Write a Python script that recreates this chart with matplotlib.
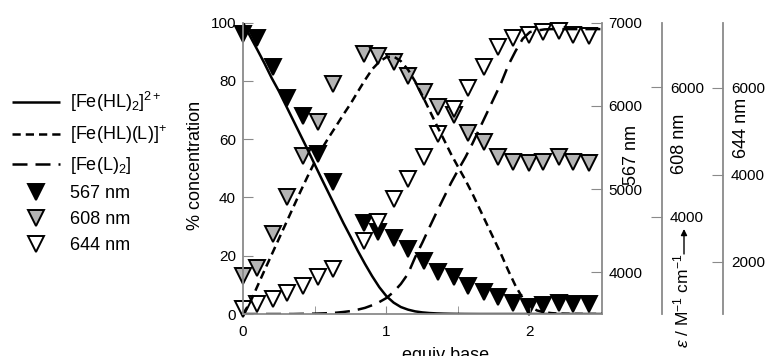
import matplotlib.pyplot as plt

plt.rcParams['font.family'] = ['Liberation Sans', 'DejaVu Sans']
plt.rcParams['mathtext.fontset'] = 'custom'
plt.rcParams['mathtext.rm'] = 'Liberation Sans'
plt.rcParams['mathtext.it'] = 'Liberation Sans:italic'
plt.rcParams['mathtext.bf'] = 'Liberation Sans:bold'

# calculated speciation (% of total Fe) vs equivalents of base
equiv_calc = [0.00, 0.05, 0.10, 0.15, 0.20, 0.25, 0.30, 0.35, 0.40, 0.45,
              0.50, 0.55, 0.60, 0.65, 0.70, 0.75, 0.80, 0.85, 0.90, 0.95,
              1.00, 1.05, 1.10, 1.15, 1.20, 1.25, 1.30, 1.35, 1.40, 1.45,
              1.50, 1.55, 1.60, 1.65, 1.70, 1.75, 1.80, 1.85, 1.90, 1.95,
              2.00, 2.05, 2.10, 2.15, 2.20, 2.25, 2.30, 2.35, 2.40, 2.45, 2.50]
fe_hl2 = [100.0, 95.3, 90.7, 86.0, 81.0, 76.5, 71.5, 66.5, 61.5, 56.5,
          51.3, 46.2, 41.2, 36.2, 31.2, 26.5, 21.7, 17.2, 13.0, 9.2,
          6.1, 3.9, 2.4, 1.5, 0.9, 0.55, 0.33, 0.2, 0.12, 0.07,
          0.04, 0.02, 0.01, 0, 0, 0, 0, 0, 0, 0,
          0, 0, 0, 0, 0, 0, 0, 0, 0, 0, 0]
fe_hl_l = [0.0, 4.0, 9.5, 15.0, 20.4, 25.8, 31.2, 36.6, 42.0, 47.2,
           52.2, 56.8, 60.8, 64.6, 68.5, 72.2, 76.3, 80.3, 84.0, 86.6,
           88.2, 88.4, 86.8, 83.9, 79.8, 75.0, 69.9, 64.8, 59.9, 54.9,
           50.4, 46.0, 41.2, 36.0, 30.8, 25.6, 20.4, 14.8, 9.6, 5.4,
           2.6, 1.2, 0.6, 0.3, 0.15, 0.08, 0.04, 0.02, 0.01, 0, 0]
fe_l2 = [0, 0, 0, 0, 0, 0, 0, 0, 0.05, 0.08,
         0.12, 0.2, 0.3, 0.45, 0.7, 1.0, 1.5, 2.1, 3.0, 4.1,
         5.5, 7.6, 10.3, 13.8, 19.5, 24.5, 29.8, 35.0, 40.0, 45.0,
         49.5, 53.8, 58.6, 63.8, 69.0, 74.2, 79.4, 85.5, 90.3, 94.5,
         96.8, 97.3, 97.7, 97.8, 97.8, 97.8, 97.8, 97.8, 97.8, 97.8, 97.8]

# measured molar absorptivities (M^-1 cm^-1)
equiv_exp = [0.00, 0.10, 0.21, 0.31, 0.42, 0.52, 0.63, 0.84, 0.94, 1.05, 1.15, 1.26,
             1.36, 1.47, 1.57, 1.68, 1.78, 1.88, 1.99, 2.09, 2.20, 2.30, 2.41]
eps_567 = [6860, 6820, 6470, 6100, 5880, 5420, 5090, 4590, 4490, 4410, 4280, 4140,
           4005, 3950, 3840, 3770, 3710, 3630, 3590, 3610, 3630, 3620, 3620]
eps_608 = [3080, 3210, 3740, 4300, 4940, 5470, 6050, 6520, 6490, 6390, 6170, 5930,
           5700, 5580, 5300, 5150, 4920, 4850, 4830, 4850, 4920, 4850, 4830]
eps_644 = [915, 1030, 1140, 1280, 1440, 1640, 1840, 2480, 2910, 3450, 3900, 4410,
           4940, 5520, 5990, 6490, 6950, 7140, 7220, 7280, 7310, 7220, 7190]

W, H = 768, 356
spine_c = '#8a8a8a'

fig = plt.figure(figsize=(W / 100, H / 100), dpi=100)
ax = fig.add_axes([243 / W, 1 - 314 / H, 358.7 / W, 291.3 / H])
ax567 = ax.twinx()
ax608 = ax.twinx()
ax644 = ax.twinx()

# lines on top of the markers
ax.set_zorder(ax644.get_zorder() + 1)
ax.patch.set_visible(False)

lw = 1.8
l1, = ax.plot(equiv_calc, fe_hl2, color='black', lw=lw, solid_capstyle='butt')
l2, = ax.plot(equiv_calc, fe_hl_l, color='black', lw=lw, dashes=(3.3, 2.0))
l3, = ax.plot(equiv_calc, fe_l2, color='black', lw=lw, dashes=(6.0, 3.2))

mk = dict(marker='v', ms=11.5, mec='black', mew=1.4, ls='none', clip_on=False)
m1, = ax567.plot(equiv_exp, eps_567, mfc='black', **mk)
m2, = ax608.plot(equiv_exp, eps_608, mfc='#b4b4b4', **mk)
m3, = ax644.plot(equiv_exp, eps_644, mfc='white', **mk)

ax.set_xlim(0, 2.5)
ax.set_ylim(0, 100)
ax567.set_ylim(3500, 7000)
ax608.set_ylim(2500, 7000)
ax644.set_ylim(800, 7500)

ax.set_xticks([0, 1, 2])
ax.set_xticks([0.5, 1.5], minor=True)
ax.set_yticks([0, 20, 40, 60, 80, 100])
ax567.set_yticks([4000, 5000, 6000, 7000])
ax608.set_yticks([4000, 6000])
ax644.set_yticks([2000, 4000, 6000])

ax.tick_params(axis='x', which='both', direction='in', length=6, color=spine_c,
               labelsize=11, pad=8)
ax.tick_params(axis='y', direction='in', length=7, color=spine_c, labelsize=11, pad=5)
ax567.tick_params(direction='in', length=8, color=spine_c, labelsize=11, pad=5)
ax608.tick_params(direction='in', length=8, color=spine_c, labelsize=11, pad=6)
ax644.tick_params(direction='in', length=8, color=spine_c, labelsize=11, pad=6)

for a in (ax, ax567, ax608, ax644):
    for s in a.spines.values():
        s.set_visible(False)
        s.set_color(spine_c)
        s.set_linewidth(1.3)
ax.spines['left'].set_visible(True)
ax.spines['bottom'].set_visible(True)
ax567.spines['right'].set_visible(True)
ax608.spines['right'].set_visible(True)
ax608.spines['right'].set_position(('axes', 1.167))
ax644.spines['right'].set_visible(True)
ax644.spines['right'].set_position(('axes', 1.337))

# axis titles
fs = 13
fig.text(196 / W, 1 - 165 / H, '% concentration', rotation=90, ha='center', va='center', fontsize=fs)
fig.text(446 / W, 1 - 347 / H, 'equiv base', ha='center', va='top', fontsize=fs)
fig.text(631 / W, 1 - 155 / H, '567 nm', rotation=90, ha='center', va='center', fontsize=fs)
fig.text(679 / W, 1 - 144 / H, '608 nm', rotation=90, ha='center', va='center', fontsize=fs)
fig.text(742 / W, 1 - 128 / H, '644 nm', rotation=90, ha='center', va='center', fontsize=fs)
fig.text(681 / W, 1 - 348 / H, r'$\varepsilon$ / M$^{-1}$ cm$^{-1}$',
         rotation=90, ha='center', va='bottom', fontsize=fs - 0.5)
ax.annotate('', xy=(684 / W, 1 - 229 / H), xytext=(684 / W, 1 - 254 / H),
            xycoords='figure fraction', textcoords='figure fraction',
            annotation_clip=False,
            arrowprops=dict(arrowstyle='-|>', color='black', lw=1.0,
                            mutation_scale=9, shrinkA=0, shrinkB=0))

handles = [l1, l2, l3, m1, m2, m3]
labels = [r'[Fe(HL)$_2$]$^{2+}$', r'[Fe(HL)(L)]$^{+}$', r'[Fe(L)$_2$]',
          '567 nm', '608 nm', '644 nm']
fig.legend(handles, labels, loc='upper left', bbox_to_anchor=(12 / W, 1 - 90 / H),
           frameon=False, fontsize=fs, handlelength=2.65, handletextpad=0.55,
           borderpad=0, borderaxespad=0, labelspacing=0.5)

fig.savefig('out.png', dpi=100)
